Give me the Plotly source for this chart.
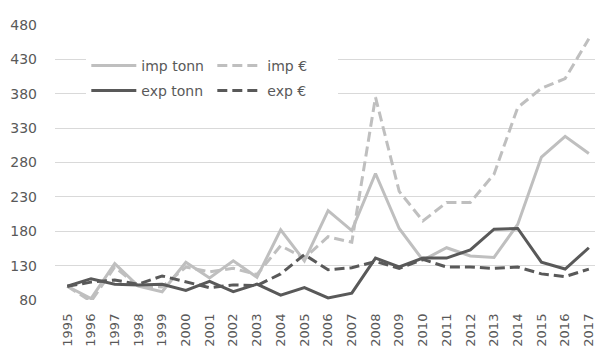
import plotly.graph_objects as go

years = [str(y) for y in range(1995, 2018)]

imp_tonn = [100, 82, 133, 100, 92, 135, 112, 137, 113, 182, 137, 210, 181, 264,
            184, 138, 156, 144, 142, 190, 288, 318, 293]
imp_eur = [100, 78, 128, 100, 99, 128, 121, 126, 117, 159, 141, 172, 164, 375,
           238, 195, 222, 222, 263, 360, 388, 402, 460]
exp_tonn = [100, 111, 103, 102, 103, 94, 107, 92, 103, 87, 98, 83, 90, 141,
            128, 141, 141, 153, 183, 184, 135, 125, 156]
exp_eur = [100, 106, 109, 103, 115, 107, 98, 102, 101, 118, 146, 124, 127, 136,
           126, 139, 128, 128, 126, 128, 118, 114, 125]

light = "#BFBFBF"
dark = "#595959"
dash_pat = "10px,5px"
font_family = "DejaVu Sans, sans-serif"
text_color = "#595959"

fig = go.Figure()
fig.add_trace(go.Scatter(x=years, y=imp_tonn, name="imp tonn", mode="lines",
                         line=dict(color=light, width=3), legend="legend"))
fig.add_trace(go.Scatter(x=years, y=imp_eur, name="imp €", mode="lines",
                         line=dict(color=light, width=3, dash=dash_pat), legend="legend"))
fig.add_trace(go.Scatter(x=years, y=exp_tonn, name="exp tonn", mode="lines",
                         line=dict(color=dark, width=3), legend="legend2"))
fig.add_trace(go.Scatter(x=years, y=exp_eur, name="exp €", mode="lines",
                         line=dict(color=dark, width=3, dash=dash_pat), legend="legend2"))

legend_common = dict(
    orientation="h", xref="paper", yref="paper", xanchor="left", yanchor="middle",
    bgcolor="white", borderwidth=0, entrywidth=66, entrywidthmode="pixels",
    itemwidth=45, font=dict(family=font_family, size=14, color=text_color),
)

fig.update_layout(
    width=595, height=347,
    margin=dict(l=55, r=0, t=25, b=47, autoexpand=False),
    paper_bgcolor="white", plot_bgcolor="white",
    font=dict(family=font_family, size=14, color=text_color),
    legend=dict(x=0.058, y=1 - (66 - 25) / 275, **legend_common),
    legend2=dict(x=0.058, y=1 - (91 - 25) / 275, **legend_common),
    xaxis=dict(
        type="category", range=[-0.52, 22.26], showgrid=False, zeroline=False,
        showline=False, tickangle=-90, ticks="", ticklabelstandoff=10,
        automargin=False,
        tickfont=dict(family=font_family, size=13, color=text_color),
    ),
    yaxis=dict(
        range=[80, 480], tickvals=[80, 130, 180, 230, 280, 330, 380, 430, 480],
        showgrid=True, gridcolor="#D9D9D9", gridwidth=1, zeroline=False,
        showline=False, ticks="", ticklabelstandoff=17, automargin=False,
        tickfont=dict(family=font_family, size=14, color=text_color),
    ),
)

fig.write_html("out.html")
